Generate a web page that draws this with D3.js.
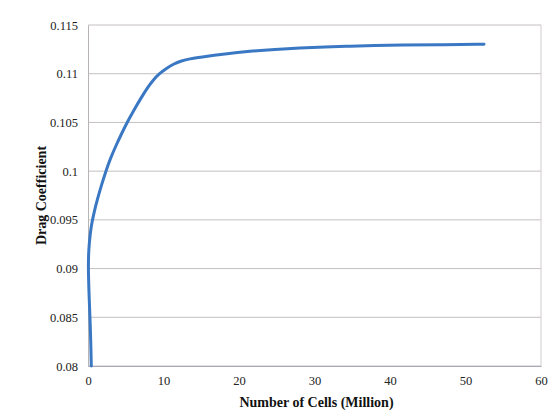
<!DOCTYPE html>
<html>
<head>
<meta charset="utf-8">
<script src="https://cdn.jsdelivr.net/npm/d3@7"></script>
<style>
  html, body { margin: 0; padding: 0; background: #fff; }
  svg { display: block; }
</style>
</head>
<body>
<svg id="chart" width="556" height="418"></svg>
<script>
// Data (cells in million, drag coefficient)
const cells = [0.437, 0.371, 0.265, 0.132, 0.040, 0.065, 0.172, 0.318, 0.530, 0.821, 1.219, 1.788, 2.371, 2.993, 3.682, 4.424, 5.205, 6.093, 7.020, 7.947, 8.623, 9.430, 10.331, 11.311, 12.371, 13.483, 14.834, 18.146, 21.457, 24.768, 28.079, 31.391, 34.702, 38.013, 41.325, 46.623, 52.450];
const dragCoef = [0.08000, 0.08246, 0.08493, 0.08739, 0.08996, 0.09139, 0.09262, 0.09375, 0.09478, 0.09581, 0.09704, 0.09858, 0.10001, 0.10135, 0.10258, 0.10381, 0.10504, 0.10628, 0.10751, 0.10864, 0.10935, 0.10999, 0.11053, 0.11099, 0.11132, 0.11153, 0.11169, 0.11204, 0.11231, 0.11250, 0.11265, 0.11275, 0.11283, 0.11290, 0.11294, 0.11298, 0.11302];
const xTicks = [0, 10, 20, 30, 40, 50, 60];
const yTicks = [0.08, 0.085, 0.09, 0.095, 0.1, 0.105, 0.11, 0.115];

const svg = d3.select("#chart");
const m = { left: 88, top: 25, right: 541, bottom: 366 };

const x = d3.scaleLinear().domain([0, 60]).range([m.left, m.right]);
const y = d3.scaleLinear().domain([0.08, 0.115]).range([m.bottom, m.top]);

const serif = "'Liberation Serif', 'Times New Roman', serif";

// gridlines
svg.append("g").selectAll("line").data(yTicks).join("line")
  .attr("x1", m.left).attr("x2", m.right)
  .attr("y1", d => y(d)).attr("y2", d => y(d))
  .attr("stroke", "#c4c0c0").attr("stroke-width", 1);

// right border
svg.append("line").attr("x1", m.right).attr("x2", m.right)
  .attr("y1", m.top).attr("y2", m.bottom)
  .attr("stroke", "#d0cccc").attr("stroke-width", 1);

// axes
const yAxis = d3.axisLeft(y).tickValues(yTicks).tickSize(0).tickPadding(10)
  .tickFormat(d => d3.format("")(+d.toFixed(3)));
const gy = svg.append("g").attr("transform", `translate(${m.left},0)`).call(yAxis);
gy.select(".domain").attr("stroke", "#b8b4b4");
gy.selectAll("text").attr("font-family", serif).attr("font-size", 12.5).attr("fill", "#222");

const xAxis = d3.axisBottom(x).tickValues(xTicks).tickSize(0).tickPadding(10);
const gx = svg.append("g").attr("transform", `translate(0,${m.bottom})`).call(xAxis);
gx.select(".domain").attr("stroke", "#a8a8b8");
gx.selectAll("text").attr("font-family", serif).attr("font-size", 12.5).attr("fill", "#222");

// curve
const pts = cells.map((c, i) => [c, dragCoef[i]]);
svg.append("path").datum(pts)
  .attr("fill", "none")
  .attr("stroke", "#3a78c4")
  .attr("stroke-width", 3)
  .attr("stroke-linecap", "round")
  .attr("stroke-linejoin", "round")
  .attr("d", d3.line().x(d => x(d[0])).y(d => y(d[1])).curve(d3.curveBasis));

// axis titles
svg.append("text")
  .attr("x", (m.left + m.right) / 2 + 2).attr("y", 407)
  .attr("text-anchor", "middle")
  .attr("font-family", serif).attr("font-weight", "bold").attr("font-size", 14)
  .attr("fill", "#111")
  .text("Number  of Cells (Million)");

svg.append("text")
  .attr("transform", `translate(46,${(m.top + m.bottom) / 2}) rotate(-90)`)
  .attr("text-anchor", "middle")
  .attr("font-family", serif).attr("font-weight", "bold").attr("font-size", 14)
  .attr("fill", "#111")
  .text("Drag Coefficient");
</script>
</body>
</html>
